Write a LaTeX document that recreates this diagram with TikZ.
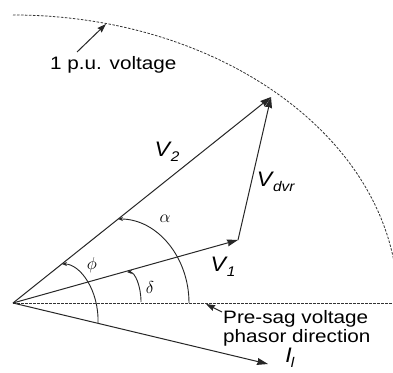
\documentclass[tikz,border=0pt]{standalone}
\usepackage{fontspec}
\setmainfont{Liberation Sans}
\usetikzlibrary{arrows.meta}
\newcommand\vsub[2]{\scalebox{1.1}[1]{\fontsize{21}{21}\selectfont\textit{#1}\kern-1pt\raisebox{-5pt}{\fontsize{14}{14}\selectfont\textit{#2}}}}
\newcommand\lbltext[1]{\scalebox{1.15}[1]{\fontsize{18}{20}\selectfont #1}}
\begin{document}
\begin{tikzpicture}[x=1pt,y=1pt,
  vec/.style={line width=1pt, draw=black!85, -{Stealth[length=11pt,width=7pt,inset=1pt]}},
  refline/.style={line width=0.8pt, draw=black!80, dash pattern=on 2.5pt off 1.5pt},
  angarc/.style={line width=0.9pt, draw=black!85, -{Stealth[length=5pt,width=4pt]}},
  callout/.style={line width=1pt, draw=black!85, -{Stealth[length=9pt,width=6pt,inset=1pt]}},
  txt/.style={inner sep=0pt, anchor=base west},
  mlab/.style={inner sep=0pt}]
\useasboundingbox (0,0) rectangle (393,372);
\fill[white] (0,0) rectangle (393,372);
% points
\coordinate (O) at (13,69);
\coordinate (V1) at (238,132);
\coordinate (V2) at (271,275);
\coordinate (IL) at (268,8);
\coordinate (H) at (393,69);
% 1 p.u. circle
\begin{scope}
\clip (0,0) rectangle (393,372);
\draw[refline] (13,357) arc[start angle=90, end angle=4, x radius=385, y radius=288];
\end{scope}
% pre-sag direction
\draw[refline] (O) -- (H);
% phasors
\draw[vec] (O) -- (V1);
\draw[vec] (O) -- (V2);
\draw[vec] (V1) -- (V2);
\draw[vec] (O) -- (IL);
% angle arcs
\draw[angarc] (189,69) .. controls (189,115) and (157,153) .. (118,153);
\draw[angarc] (141,70) .. controls (141,86) and (135,100) .. (127,100);
\draw[angarc] (98,49) .. controls (99,82) and (80,108) .. (62,108);
% angle labels
\node[mlab] (la) at (165,153) {\fontsize{19}{19}\selectfont$\alpha$};
\node[mlab] (lp) at (92,107) {\fontsize{17}{17}\selectfont$\phi$};
\node[mlab] (ld) at (150,84) {\fontsize{19}{19}\selectfont$\delta$};
% phasor labels
\node[mlab] (lv2) at (167,220) {\vsub{V}{2}};
\node[mlab] (lvd) at (276,190) {\vsub{V}{dvr}};
\node[mlab] (lv1) at (223,105) {\vsub{V}{1}};
\node[mlab] (lil) at (290,14) {\vsub{I}{l}};
% callouts
\node[txt] (pu) at (50,302) {\lbltext{1 p.u. voltage}};
\coordinate (puT) at (77,320);
\coordinate (puH) at (106,348);
\draw[callout] (puT) -- (puH);
\node[txt] (ps1) at (223,49) {\lbltext{Pre-sag voltage}};
\node[txt] (ps2) at (223,30) {\lbltext{phasor direction}};
\coordinate (psT) at (222,60);
\coordinate (psH) at (206,68);
\draw[callout] (psT) -- (psH);
\end{tikzpicture}
\end{document}
